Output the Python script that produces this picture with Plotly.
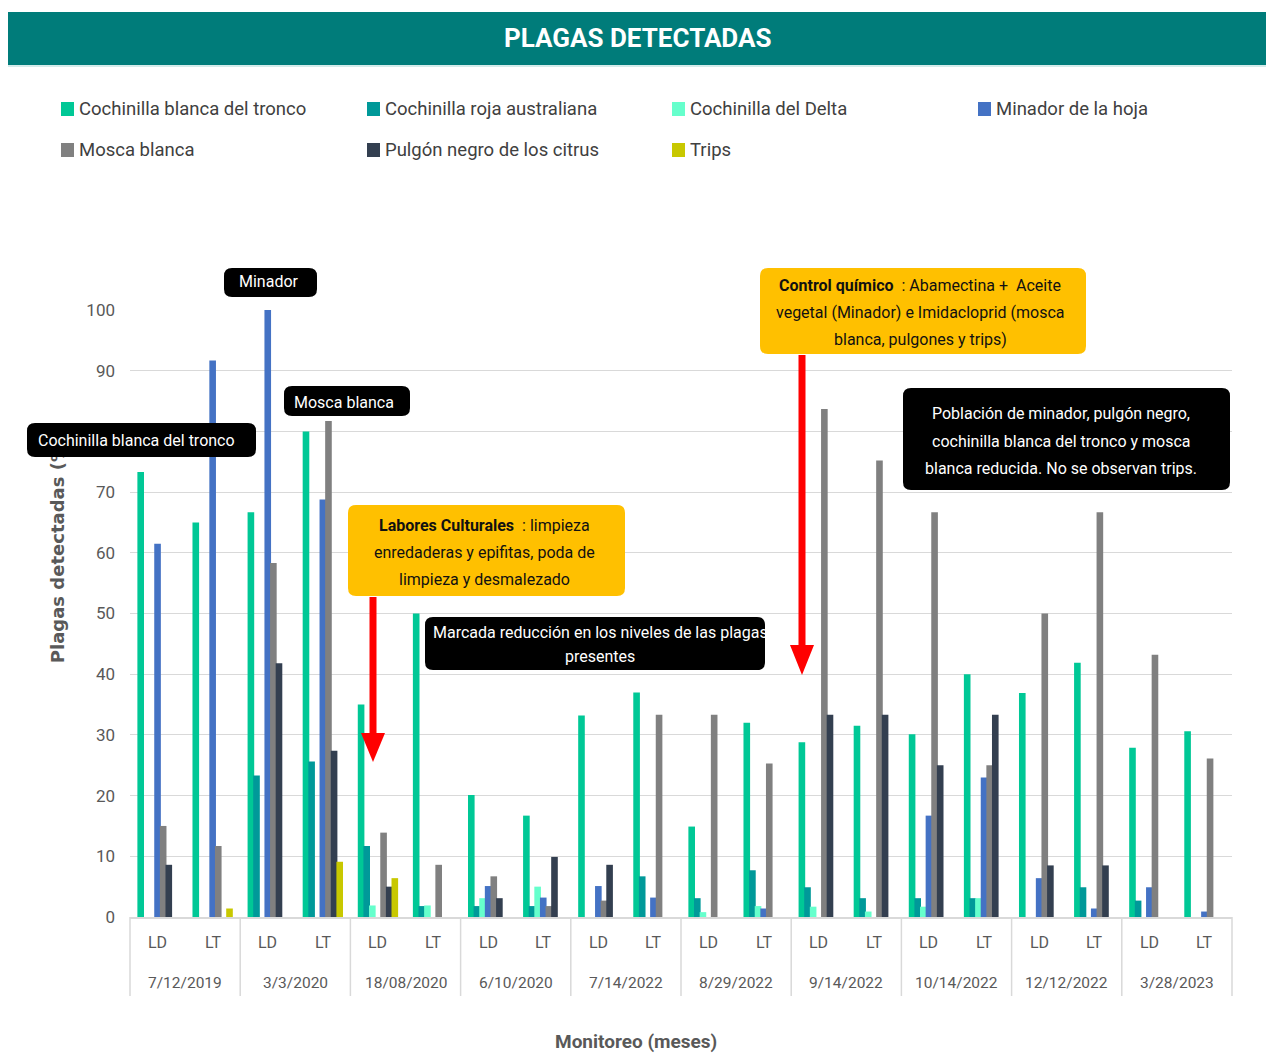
import plotly.graph_objects as go

# ---- data -------------------------------------------------------------
dates = ["7/12/2019", "3/3/2020", "18/08/2020", "6/10/2020", "7/14/2022",
         "8/29/2022", "9/14/2022", "10/14/2022", "12/12/2022", "3/28/2023"]
sites = ["LD", "LT"]

series_names = ["Cochinilla blanca del tronco", "Cochinilla roja australiana",
                "Cochinilla del Delta", "Minador de la hoja", "Mosca blanca",
                "Pulgón negro de los citrus", "Trips"]
series_colors = ["#00C896", "#009999", "#66FFCC", "#4472C4", "#808080",
                 "#333F50", "#C8C800"]

# values per date, ordered LD, LT
cochinilla_blanca = [73.3, 65.0, 66.7, 80.0, 35.0, 50.0, 20.1, 16.7, 33.2, 37.0,
                     14.9, 32.0, 28.8, 31.5, 30.1, 40.0, 36.9, 41.9, 27.9, 30.6]
cochinilla_roja = [0, 0, 23.3, 25.6, 11.7, 1.8, 1.8, 1.8, 0, 6.7,
                   3.1, 7.7, 4.9, 3.1, 3.1, 3.1, 0, 4.9, 2.7, 0]
cochinilla_delta = [0, 0, 0, 0, 1.9, 1.9, 3.1, 5.0, 0, 0,
                    0.8, 1.8, 1.7, 0.9, 1.7, 3.1, 0, 0, 0, 0]
minador = [61.5, 91.7, 100.0, 68.8, 0, 0, 5.1, 3.2, 5.1, 3.2,
           0, 1.4, 0, 0, 16.7, 23.0, 6.4, 1.4, 4.9, 0.9]
mosca_blanca = [15.0, 11.7, 58.3, 81.7, 13.9, 8.6, 6.7, 1.8, 2.7, 33.3,
                33.3, 25.3, 83.7, 75.2, 66.7, 25.0, 50.0, 66.7, 43.2, 26.1]
pulgon_negro = [8.6, 0, 41.8, 27.4, 5.0, 0, 3.1, 9.9, 8.6, 0,
                0, 0, 33.3, 33.3, 25.0, 33.3, 8.5, 8.5, 0, 0]
trips = [0, 1.4, 0, 9.1, 6.4, 0, 0, 0, 0, 0,
         0, 0, 0, 0, 0, 0, 0, 0, 0, 0]

series_values = [cochinilla_blanca, cochinilla_roja, cochinilla_delta, minador,
                 mosca_blanca, pulgon_negro, trips]

y_ticks = [0, 10, 20, 30, 40, 50, 60, 70, 80, 90, 100]

# ---- geometry helpers (pixel -> paper) ----------------------------------
W, H = 1266, 1053
PL, PR, PT, PB = 130, 1232, 310, 917


def px(x):
    return (x - PL) / (PR - PL)


def py(y):
    return (PB - y) / (PB - PT)


def rounded_path(x0, y0, x1, y1, r):
    ax0, ax1 = px(x0), px(x1)
    ay0, ay1 = py(y0), py(y1)  # ay0 top, ay1 bottom
    rx = r / (PR - PL)
    ry = r / (PB - PT)
    return (f"M {ax0+rx},{ay0} L {ax1-rx},{ay0} Q {ax1},{ay0} {ax1},{ay0-ry} "
            f"L {ax1},{ay1+ry} Q {ax1},{ay1} {ax1-rx},{ay1} "
            f"L {ax0+rx},{ay1} Q {ax0},{ay1} {ax0},{ay1+ry} "
            f"L {ax0},{ay0-ry} Q {ax0},{ay0} {ax0+rx},{ay0} Z")


FONT = "Roboto, sans-serif"
GRAY_TXT = "#595959"
AXIS_GRAY = "#D9D9D9"

# ---- bars -----------------------------------------------------------------
x_outer = [d for d in dates for _ in sites]
x_inner = [s for _ in dates for s in sites]

slot = 0.102
bar_w = 0.12

fig = go.Figure()
for i, (name, color, vals) in enumerate(zip(series_names, series_colors, series_values)):
    fig.add_trace(go.Bar(
        x=[x_outer, x_inner], y=vals, name=name,
        marker=dict(color=color, line=dict(width=0)),
        width=bar_w, offset=(i - 3) * slot - bar_w / 2,
        showlegend=False,
    ))

shapes = []
annotations = []

# title band
shapes.append(dict(type="rect", xref="paper", yref="paper",
                   x0=px(8), x1=px(1266), y0=py(12), y1=py(65),
                   fillcolor="#007C7A", line=dict(width=0), layer="above"))
shapes.append(dict(type="line", xref="paper", yref="paper",
                   x0=px(8), x1=px(1266), y0=py(66), y1=py(66),
                   line=dict(color="#A8D8D6", width=1), layer="above"))
annotations.append(dict(xref="paper", yref="paper", x=px(637), y=py(38),
                        text="<b>PLAGAS DETECTADAS</b>", showarrow=False,
                        font=dict(family=FONT, size=26, color="white"),
                        xanchor="center", yanchor="middle"))

# legend (4 columns x 2 rows)
leg_cols = [61, 367, 672, 978]
leg_rows = [109, 150]
for i, (name, color) in enumerate(zip(series_names, series_colors)):
    cx = leg_cols[i % 4]
    cy = leg_rows[i // 4]
    shapes.append(dict(type="rect", xref="paper", yref="paper",
                       x0=px(cx), x1=px(cx + 13), y0=py(cy - 7), y1=py(cy + 7),
                       fillcolor=color, line=dict(width=0), layer="above"))
    annotations.append(dict(xref="paper", yref="paper", x=px(cx + 16), y=py(cy),
                            text=name, showarrow=False, xanchor="left", yanchor="middle",
                            font=dict(family=FONT, size=18.5, color="#404040")))

# category axis labels and group dividers
n_cat = len(dates) * len(sites)
for i, s in enumerate(x_inner):
    annotations.append(dict(xref="paper", yref="paper", x=(i + 0.5) / n_cat, y=py(942),
                            text=s, showarrow=False, xanchor="center", yanchor="middle",
                            font=dict(family=FONT, size=16, color=GRAY_TXT)))
for k, d in enumerate(dates):
    annotations.append(dict(xref="paper", yref="paper",
                            x=(k + 0.5) / len(dates), y=py(983),
                            text=d, showarrow=False, xanchor="center", yanchor="middle",
                            font=dict(family=FONT, size=15.5, color=GRAY_TXT)))
for k in range(len(dates) + 1):
    shapes.append(dict(type="line", xref="paper", yref="paper",
                       x0=k / len(dates), x1=k / len(dates), y0=0, y1=py(996),
                       line=dict(color=AXIS_GRAY, width=1.5), layer="above"))

# y axis title (as a shape label so the callout box can sit over it)
shapes.append(dict(type="rect", xref="paper", yref="paper",
                   x0=px(44), x1=px(68), y0=py(425), y1=py(674),
                   fillcolor="rgba(0,0,0,0)", line=dict(width=0), layer="above",
                   label=dict(text="<b>Plagas detectadas (%)</b>", textangle=-90,
                              textposition="middle center",
                              font=dict(family="DejaVu Sans, sans-serif", size=18,
                                        color=GRAY_TXT))))

# x axis title
annotations.append(dict(xref="paper", yref="paper", x=px(636), y=py(1041),
                        text="<b>Monitoreo (meses)</b>", showarrow=False,
                        xanchor="center", yanchor="middle",
                        font=dict(family=FONT, size=19, color=GRAY_TXT)))

# callout boxes
BLACK = "#000000"
YELLOW = "#FFC000"


def box(x0, y0, x1, y1, fill, lines, line_ys, cx, color, size):
    shapes.append(dict(type="path", xref="paper", yref="paper",
                       path=rounded_path(x0, y0, x1, y1, 8),
                       fillcolor=fill, line=dict(width=0), layer="above"))
    for t, ly in zip(lines, line_ys):
        annotations.append(dict(xref="paper", yref="paper", x=px(cx), y=py(ly),
                                text=t, showarrow=False, xanchor="center",
                                yanchor="middle",
                                font=dict(family=FONT, size=size, color=color)))


box(27, 423, 256, 457, BLACK, ["Cochinilla blanca del tronco"], [440], 136, "white", 16)
box(224, 268, 317, 297, BLACK, ["Minador"], [282], 269, "white", 16)
box(284, 386, 410, 416, BLACK, ["Mosca blanca"], [402], 344, "white", 16)
box(348, 505, 625, 596, YELLOW,
    ["<b>Labores Culturales</b>  : limpieza",
     "enredaderas y epifitas, poda de",
     "limpieza y desmalezado"],
    [525, 552, 579], 484, "#111111", 16)
box(425, 617, 765, 670, BLACK,
    ["Marcada reducción en los niveles de las plagas", "presentes"],
    [632, 656], 600, "white", 16)
box(760, 268, 1086, 354, YELLOW,
    ["<b>Control químico</b>  : Abamectina +  Aceite",
     "vegetal (Minador) e Imidacloprid (mosca",
     "blanca, pulgones y trips)"],
    [285, 312, 339], 920, "#111111", 16)
box(903, 388, 1230, 490, BLACK,
    ["Población de minador, pulgón negro,",
     "cochinilla blanca del tronco y mosca",
     "blanca reducida. No se observan trips."],
    [413, 441, 468], 1061, "white", 16)

# red arrows
RED = "#FF0000"


def arrow(x, y_top, y_base, y_tip, half_w):
    shapes.append(dict(type="rect", xref="paper", yref="paper",
                       x0=px(x - 3.5), x1=px(x + 3.5), y0=py(y_top), y1=py(y_base + 1),
                       fillcolor=RED, line=dict(width=0), layer="above"))
    shapes.append(dict(type="path", xref="paper", yref="paper",
                       path=(f"M {px(x-half_w)},{py(y_base)} L {px(x+half_w)},{py(y_base)} "
                             f"L {px(x)},{py(y_tip)} Z"),
                       fillcolor=RED, line=dict(width=0), layer="above"))


arrow(373, 597, 733, 762, 12)
arrow(802, 355, 645, 675, 12)

fig.update_layout(
    width=W, height=H,
    margin=dict(l=PL, r=W - PR, t=PT, b=H - PB),
    paper_bgcolor="white", plot_bgcolor="white",
    barmode="overlay",
    shapes=shapes, annotations=annotations,
    showlegend=False,
    xaxis=dict(
        type="multicategory",
        showline=True, linecolor=AXIS_GRAY, linewidth=1.5,
        showgrid=False, ticks="", showticklabels=False, showdividers=False,
    ),
    yaxis=dict(
        range=[0, 100], tickvals=y_ticks, showgrid=True,
        gridcolor=AXIS_GRAY, gridwidth=1.3, zeroline=False,
        showline=False, ticks="", ticklabelstandoff=14,
        tickfont=dict(family=FONT, size=17, color=GRAY_TXT),
    ),
)

fig.write_html("out.html")
